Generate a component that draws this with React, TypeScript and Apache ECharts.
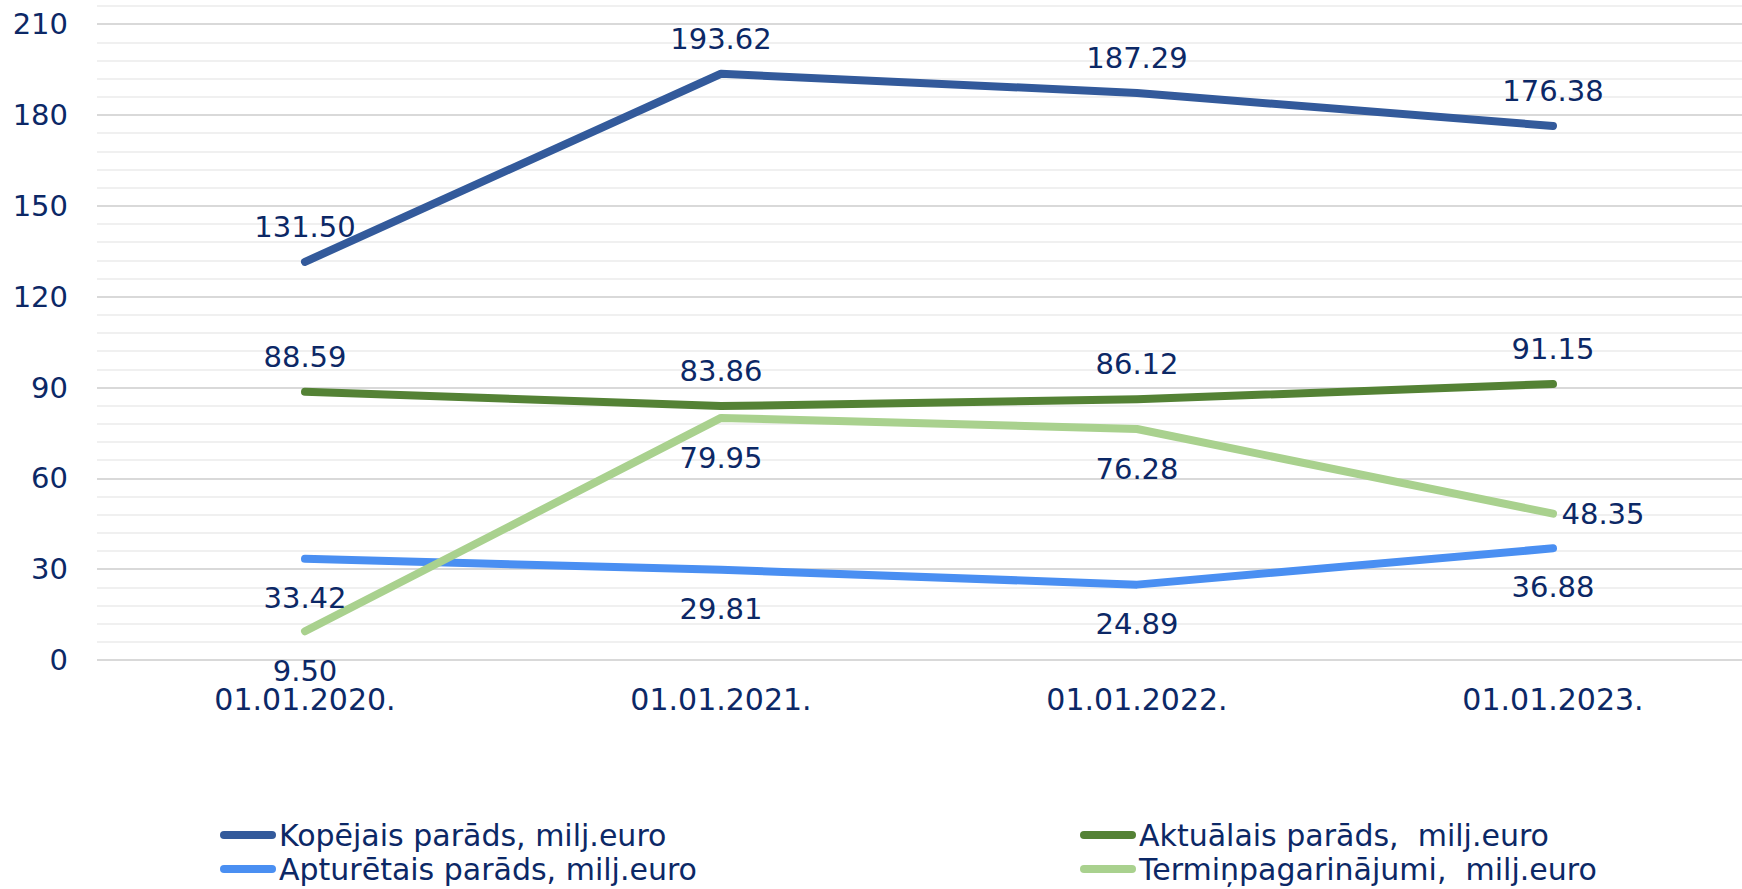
import React, { useEffect, useRef } from "react";
import * as echarts from "echarts";

const categories = ["01.01.2020.", "01.01.2021.", "01.01.2022.", "01.01.2023."];
const kopejais = [131.5, 193.62, 187.29, 176.38];
const aktualais = [88.59, 83.86, 86.12, 91.15];
const apturetais = [33.42, 29.81, 24.89, 36.88];
const terminpag = [9.5, 79.95, 76.28, 48.35];
const seriesNames = [
  "Kopējais parāds, milj.euro",
  "Aktuālais parāds,  milj.euro",
  "Apturētais parāds, milj.euro",
  "Termiņpagarinājumi,  milj.euro",
];
const yTickStep = 30;

const TEXT = "#0C2866";
const FONT = "Verdana, 'DejaVu Sans', sans-serif";
const PILL = "path://M4,0 L52,0 A4,4 0 0 1 52,8 L4,8 A4,4 0 0 1 4,0 Z";

export default function App() {
  const ref = useRef<HTMLDivElement>(null);
  useEffect(() => {
    if (!ref.current) return;
    const chart = echarts.init(ref.current, undefined, { renderer: "svg" });
    const mkLabel = (position: string, distance: number) => ({
      show: true,
      position,
      distance,
      color: TEXT,
      fontSize: 29,
      fontFamily: FONT,
      formatter: (p: any) => Number(p.value).toFixed(2),
    });
    const mkSeries = (name: string, data: number[], color: string, pos: string, dist: number, overrides: any = {}) => ({
      name,
      type: "line",
      data: data.map((v, i) => (overrides[i] ? { value: v, label: overrides[i] } : v)),
      symbol: "circle",
      symbolSize: 1,
      showSymbol: true,
      itemStyle: { color },
      lineStyle: { color, width: 8, cap: "round", join: "round" },
      label: mkLabel(pos, dist),
      emphasis: { disabled: true },
    });
    const legendCommon = {
      orient: "vertical",
      top: 820,
      padding: 0,
      itemWidth: 56,
      itemHeight: 8,
      itemGap: 4,
      icon: PILL,
      textStyle: { color: TEXT, fontSize: 30, fontFamily: FONT, lineHeight: 30, padding: [0, 0, 0, -2] },
    };
    chart.setOption({
      animation: false,
      grid: { left: 97, top: 6, width: 1664, height: 654, containLabel: false, outerBoundsMode: "none" },
      legend: [
        { ...legendCommon, data: [seriesNames[0], seriesNames[2]], left: 220 },
        { ...legendCommon, data: [seriesNames[1], seriesNames[3]], left: 1080 },
      ],
      xAxis: {
        type: "category",
        data: categories,
        boundaryGap: true,
        axisLine: { show: false },
        axisTick: { show: false },
        axisLabel: { color: TEXT, fontSize: 30, fontFamily: FONT, margin: 24 },
      },
      yAxis: {
        type: "value",
        min: 0,
        max: 216,
        interval: 6,
        axisLine: { show: false },
        axisTick: { show: false },
        axisLabel: {
          color: TEXT,
          fontSize: 29,
          fontFamily: FONT,
          margin: 29,
          formatter: (v: number) => (v % yTickStep === 0 ? String(v) : ""),
        },
        splitLine: {
          show: true,
          lineStyle: { color: ["#d9d9d9", "#f0f0f0", "#f0f0f0", "#f0f0f0", "#f0f0f0"], width: 2 },
        },
      },
      series: [
        mkSeries(seriesNames[0], kopejais, "#335A9B", "top", 20),
        mkSeries(seriesNames[1], aktualais, "#548235", "top", 20),
        mkSeries(seriesNames[2], apturetais, "#4A8FF2", "bottom", 24),
        mkSeries(seriesNames[3], terminpag, "#A9D18E", "bottom", 25, {
          3: { position: "right", distance: 8 },
        }),
      ],
    });
    return () => chart.dispose();
  }, []);
  return (
    <div
      ref={ref}
      style={{ position: "absolute", left: 0, top: 0, width: 1742, height: 889, background: "#fff" }}
    />
  );
}
